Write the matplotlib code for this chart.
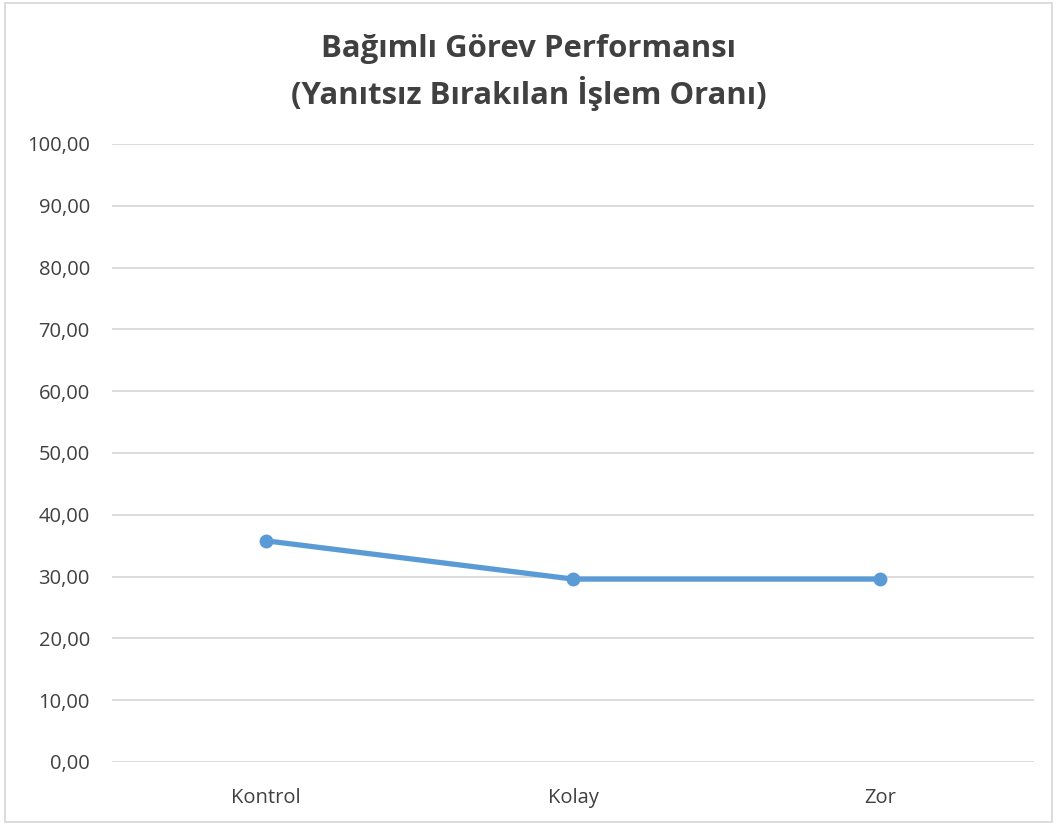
import matplotlib
matplotlib.use("Agg")
import matplotlib.pyplot as plt
from matplotlib.patches import Rectangle
from matplotlib.ticker import FuncFormatter

categories = ["Kontrol", "Kolay", "Zor"]
values = [35.8, 29.6, 29.6]
yticks = [0, 10, 20, 30, 40, 50, 60, 70, 80, 90, 100]

plt.rcParams['font.family'] = ['Open Sans', 'DejaVu Sans']

fig = plt.figure(figsize=(10.57, 8.25), dpi=100)
ax = fig.add_axes([112/1057, 63/825, 922/1057, 618/825])

x = list(range(len(categories)))
ax.plot(x, values, color="#5B9BD5", linewidth=3.8, marker="o", markersize=9,
        solid_capstyle="round", zorder=3)

ax.set_xlim(-0.5, len(categories) - 0.5)
ax.set_ylim(0, 100)
ax.set_yticks(yticks)
ax.yaxis.set_major_formatter(FuncFormatter(lambda v, p: f"{v:.2f}".replace(".", ",")))
ax.set_xticks(x)
ax.set_xticklabels(categories)
ax.tick_params(axis="both", length=0, labelsize=14.5, labelcolor="#404040")
ax.tick_params(axis="y", pad=16)
ax.tick_params(axis="x", pad=19)
ax.grid(axis="y", color="#D9D9D9", linewidth=1.3)
ax.set_axisbelow(True)
for s in ax.spines.values():
    s.set_visible(False)

fig.text(0.5, 1 - 72.5/825, "Bağımlı Görev Performansı\n(Yanıtsız Bırakılan İşlem Oranı)",
         ha="center", va="center", fontsize=22.4, fontweight="bold", color="#404040",
         linespacing=1.4)

fig.patches.append(Rectangle((5/1057, 3/825), 1047/1057, 819/825, transform=fig.transFigure,
                             fill=False, edgecolor="#D9D9D9", linewidth=1.3))

fig.savefig("out.png", dpi=100)
